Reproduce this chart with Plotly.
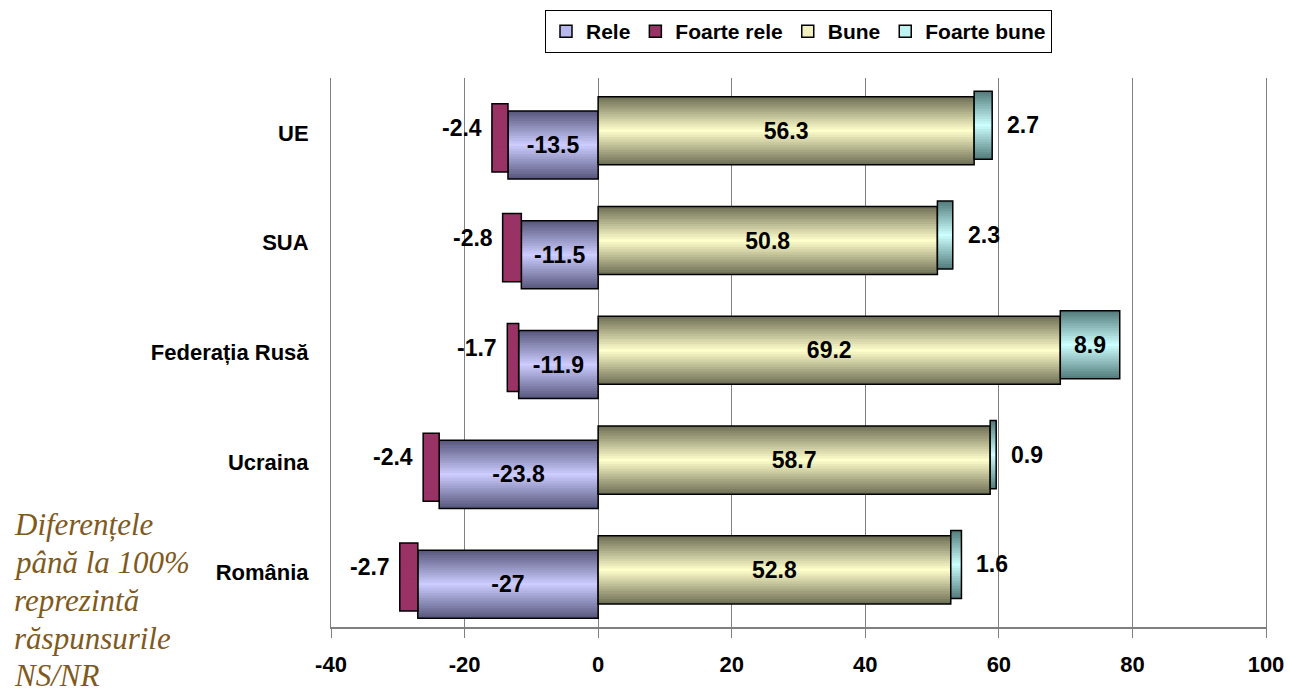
import plotly.graph_objects as go

# ---------------- data ----------------
categories = ["UE", "SUA", "Federația Rusă", "Ucraina", "România"]
rele = [-13.5, -11.5, -11.9, -23.8, -27]
foarte_rele = [-2.4, -2.8, -1.7, -2.4, -2.7]
bune = [56.3, 50.8, 69.2, 58.7, 52.8]
foarte_bune = [2.7, 2.3, 8.9, 0.9, 1.6]
x_tick_vals = [-40, -20, 0, 20, 40, 60, 80, 100]
x_tick_text = ["-40", "-20", "0", "20", "40", "60", "80", "100"]
note_lines = ["Diferențele", "până la 100%", "reprezintă", "răspunsurile", "NS/NR"]

# ---------------- styling ----------------
BAR_W = 0.62
N_LAYERS = 14
FONT = "Liberation Sans, Arial, sans-serif"
LBL = dict(family=FONT, size=23, color="black", weight="bold")

M_L, M_R, M_T, M_B = 331, 24, 78, 67
W, H = 1290, 694
PLOT_W = W - M_L - M_R
PLOT_H = H - M_T - M_B
CAT_PX = PLOT_H / len(categories)


def hex2rgb(h):
    h = h.lstrip("#")
    return tuple(int(h[i:i + 2], 16) for i in (0, 2, 4))


def mix(c1, c2, t):
    a, b = hex2rgb(c1), hex2rgb(c2)
    return "rgb(%d,%d,%d)" % tuple(round(a[i] + (b[i] - a[i]) * t) for i in range(3))


# name, values, base, edge colour, centre colour, legend colour, centre shift, label placement
series = [
    ("Rele", rele, [0] * 5, "#5A5A80", "#CCCCFF", "#B8B8EE", 0.11, ["inside"] * 5),
    ("Foarte rele", foarte_rele, rele, "#993366", "#993366", "#993366", 0.045, ["outside"] * 5),
    ("Bune", bune, [0] * 5, "#727258", "#FFFFCC", "#F0F0C0", -0.02, ["inside"] * 5),
    ("Foarte bune", foarte_bune, bune, "#567E7E", "#CCFFFF", "#BFF2F2", -0.07,
     ["outside", "outside", "inside", "outside", "outside"]),
]

fig = go.Figure()
annotations = []

for name, vals, base, edge, centre, leg, shift, lpos in series:
    # gradient layers (dark edges -> light centre)
    for k in range(N_LAYERS):
        t = k / (N_LAYERS - 1)
        w = BAR_W * (1 - 0.96 * t)
        col = mix(edge, centre, t)
        fig.add_trace(go.Bar(
            y=categories, x=vals, base=base, orientation="h",
            width=w, offset=shift - w / 2,
            marker=dict(color=col, line=dict(width=0)),
            showlegend=False, hoverinfo="skip",
        ))
    # outline + inside labels
    fig.add_trace(go.Bar(
        y=categories, x=vals, base=base, orientation="h",
        width=BAR_W, offset=shift - BAR_W / 2,
        marker=dict(color="rgba(0,0,0,0)", line=dict(color="black", width=1.5)),
        text=[f"{v:g}" if p == "inside" else "" for v, p in zip(vals, lpos)],
        textposition="inside", insidetextanchor="middle", constraintext="none",
        insidetextfont=LBL, showlegend=False, name=name, hoverinfo="skip",
    ))
    # outside labels as annotations next to the bar ends
    for cat, v, b, p in zip(categories, vals, base, lpos):
        if p != "outside":
            continue
        end = v + b
        if v < 0:
            annotations.append(dict(
                x=end, y=cat, xref="x", yref="y", text=f"{v:g}", showarrow=False,
                xanchor="right", yanchor="middle", xshift=-8, yshift=5, font=LBL))
        else:
            annotations.append(dict(
                x=end, y=cat, xref="x", yref="y", text=f"{v:g}", showarrow=False,
                xanchor="left", yanchor="middle", xshift=13,
                yshift=-shift * CAT_PX, font=LBL))
    # legend-only entry
    fig.add_trace(go.Bar(
        y=[None], x=[None], orientation="h", name=name,
        marker=dict(color=leg, line=dict(color="black", width=1.5)),
        showlegend=True,
    ))

# side note, one annotation per line
note_centres_px = [524, 562, 600, 638, 675]
for line, ypx in zip(note_lines, note_centres_px):
    annotations.append(dict(
        text=line, xref="paper", yref="paper",
        x=(12 - M_L) / PLOT_W, y=(H - M_B - ypx) / PLOT_H,
        xanchor="left", yanchor="middle", align="left", showarrow=False,
        font=dict(family="Liberation Serif, Times New Roman, serif", size=31,
                  color="#7F5A1E", style="italic"),
    ))

fig.update_layout(
    barmode="overlay",
    width=W, height=H,
    margin=dict(l=M_L, r=M_R, t=M_T, b=M_B, autoexpand=False),
    paper_bgcolor="white", plot_bgcolor="white",
    font=dict(family=FONT, color="black"),
    legend=dict(
        orientation="h", x=0.5, xanchor="center",
        y=1 - 10 / H, yref="container", yanchor="top",
        bordercolor="black", borderwidth=1,
        font=dict(family=FONT, size=21, color="black", weight="bold"),
        itemwidth=30, tracegroupgap=0,
    ),
    xaxis=dict(
        range=[-40, 100], tickvals=x_tick_vals, ticktext=x_tick_text,
        showgrid=True, gridcolor="#808080", gridwidth=1,
        zeroline=False, showline=True, linecolor="#808080", linewidth=1.5,
        ticks="outside", ticklen=9, tickcolor="#808080", ticklabelstandoff=8,
        tickfont=dict(family=FONT, size=22, color="black", weight="bold"),
        fixedrange=True,
    ),
    yaxis=dict(
        categoryorder="array", categoryarray=categories,
        autorange="reversed", showgrid=False, zeroline=False,
        showline=True, mirror=True, linecolor="#808080", linewidth=1,
        ticks="outside", ticklen=17, tickcolor="rgba(0,0,0,0)",
        tickfont=dict(family=FONT, size=22, color="black", weight="bold"),
        fixedrange=True,
    ),
    annotations=annotations,
)

fig.write_html("out.html", config={"displayModeBar": False},
               post_script="document.body.style.margin='0';")
